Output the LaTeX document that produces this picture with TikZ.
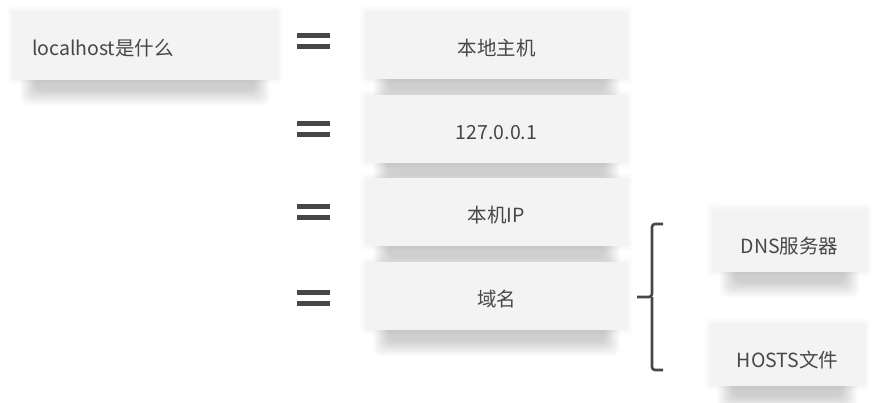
\documentclass[tikz,border=0pt]{standalone}
\usepackage{fontspec}
\setmainfont{Noto Sans CJK SC}
\usetikzlibrary{backgrounds}
\definecolor{boxfill}{HTML}{F3F3F3}
\definecolor{ink}{HTML}{474747}
\newcommand\cardshadow[1]{%
  \begin{pgfonlayer}{background}
  \foreach \i in {0,...,15}{%
    \pgfmathsetmacro\dd{(16-\i)*1.0}%
    \fill[black, opacity=0.0115, rounded corners=8pt]
      ([xshift=24pt-\dd pt, yshift=2pt+\dd pt]#1.south west) rectangle
      ([xshift=-24pt+\dd pt, yshift=-10pt-\dd pt]#1.south east);
  }%
  \foreach \i in {0,...,3}{%
    \pgfmathsetmacro\dd{(4-\i)*1.2}%
    \fill[black, opacity=0.008, rounded corners=4pt]
      ([xshift=-\dd pt, yshift=-\dd pt]#1.south west) rectangle
      ([xshift=\dd pt, yshift=\dd pt]#1.north east);
  }%
  \end{pgfonlayer}}
\begin{document}
\begin{tikzpicture}[x=1pt,y=-1pt,
  card/.style={fill=boxfill, draw=none, inner sep=0pt, font=\fontsize{19.5}{22}\selectfont, text=ink,
    text height=24pt, text depth=3pt},
  midcard/.style={card, minimum width=263pt, minimum height=68pt},
  sidecard/.style={card, minimum width=156pt, minimum height=63pt, text height=30pt},
  eqsign/.style={minimum width=33pt, minimum height=18pt, inner sep=0pt,
    path picture={
      \fill[ink] ([yshift=-6pt]path picture bounding box.north west) rectangle ([yshift=-1pt]path picture bounding box.north east);
      \fill[ink] ([yshift=1pt]path picture bounding box.south west) rectangle ([yshift=6pt]path picture bounding box.south east);
    }},
  bracket/.style={draw=ink, line width=2.6pt, rounded corners=3pt}
]
\useasboundingbox (0,0) rectangle (884,402);
\begin{pgfonlayer}{background}
\fill[white] (0,0) rectangle (884,402);
\end{pgfonlayer}

\node[card, minimum height=69pt, text width=226pt, inner xsep=20pt, align=left] (q) at (145,45) {localhost是什么};

\node[midcard] (m1) at (496.5,45) {本地主机};
\node[midcard] (m2) at (496.5,129) {127.0.0.1};
\node[midcard] (m3) at (496.5,212) {本机IP};
\node[midcard] (m4) at (496.5,296) {域名};

\node[eqsign] (e1) at (313.5,41) {};
\node[eqsign] (e2) at (313.5,129) {};
\node[eqsign] (e3) at (313.5,212) {};
\node[eqsign] (e4) at (313.5,298) {};

\node[sidecard] (dns) at (789.5,240) {DNS服务器};
\node[sidecard] (hosts) at (787.5,354) {HOSTS文件};

\cardshadow{q}
\cardshadow{m1}
\cardshadow{m2}
\cardshadow{m3}
\cardshadow{m4}
\cardshadow{dns}
\cardshadow{hosts}

\coordinate (btop) at (663,224);
\coordinate (bbot) at (663,370);
\coordinate (btip) at (637,297);
\draw[bracket] (btop) -- (652,224) -- (652,297) -- (btip);
\draw[bracket] (652,297) -- (652,370) -- (bbot);
\end{tikzpicture}
\end{document}
